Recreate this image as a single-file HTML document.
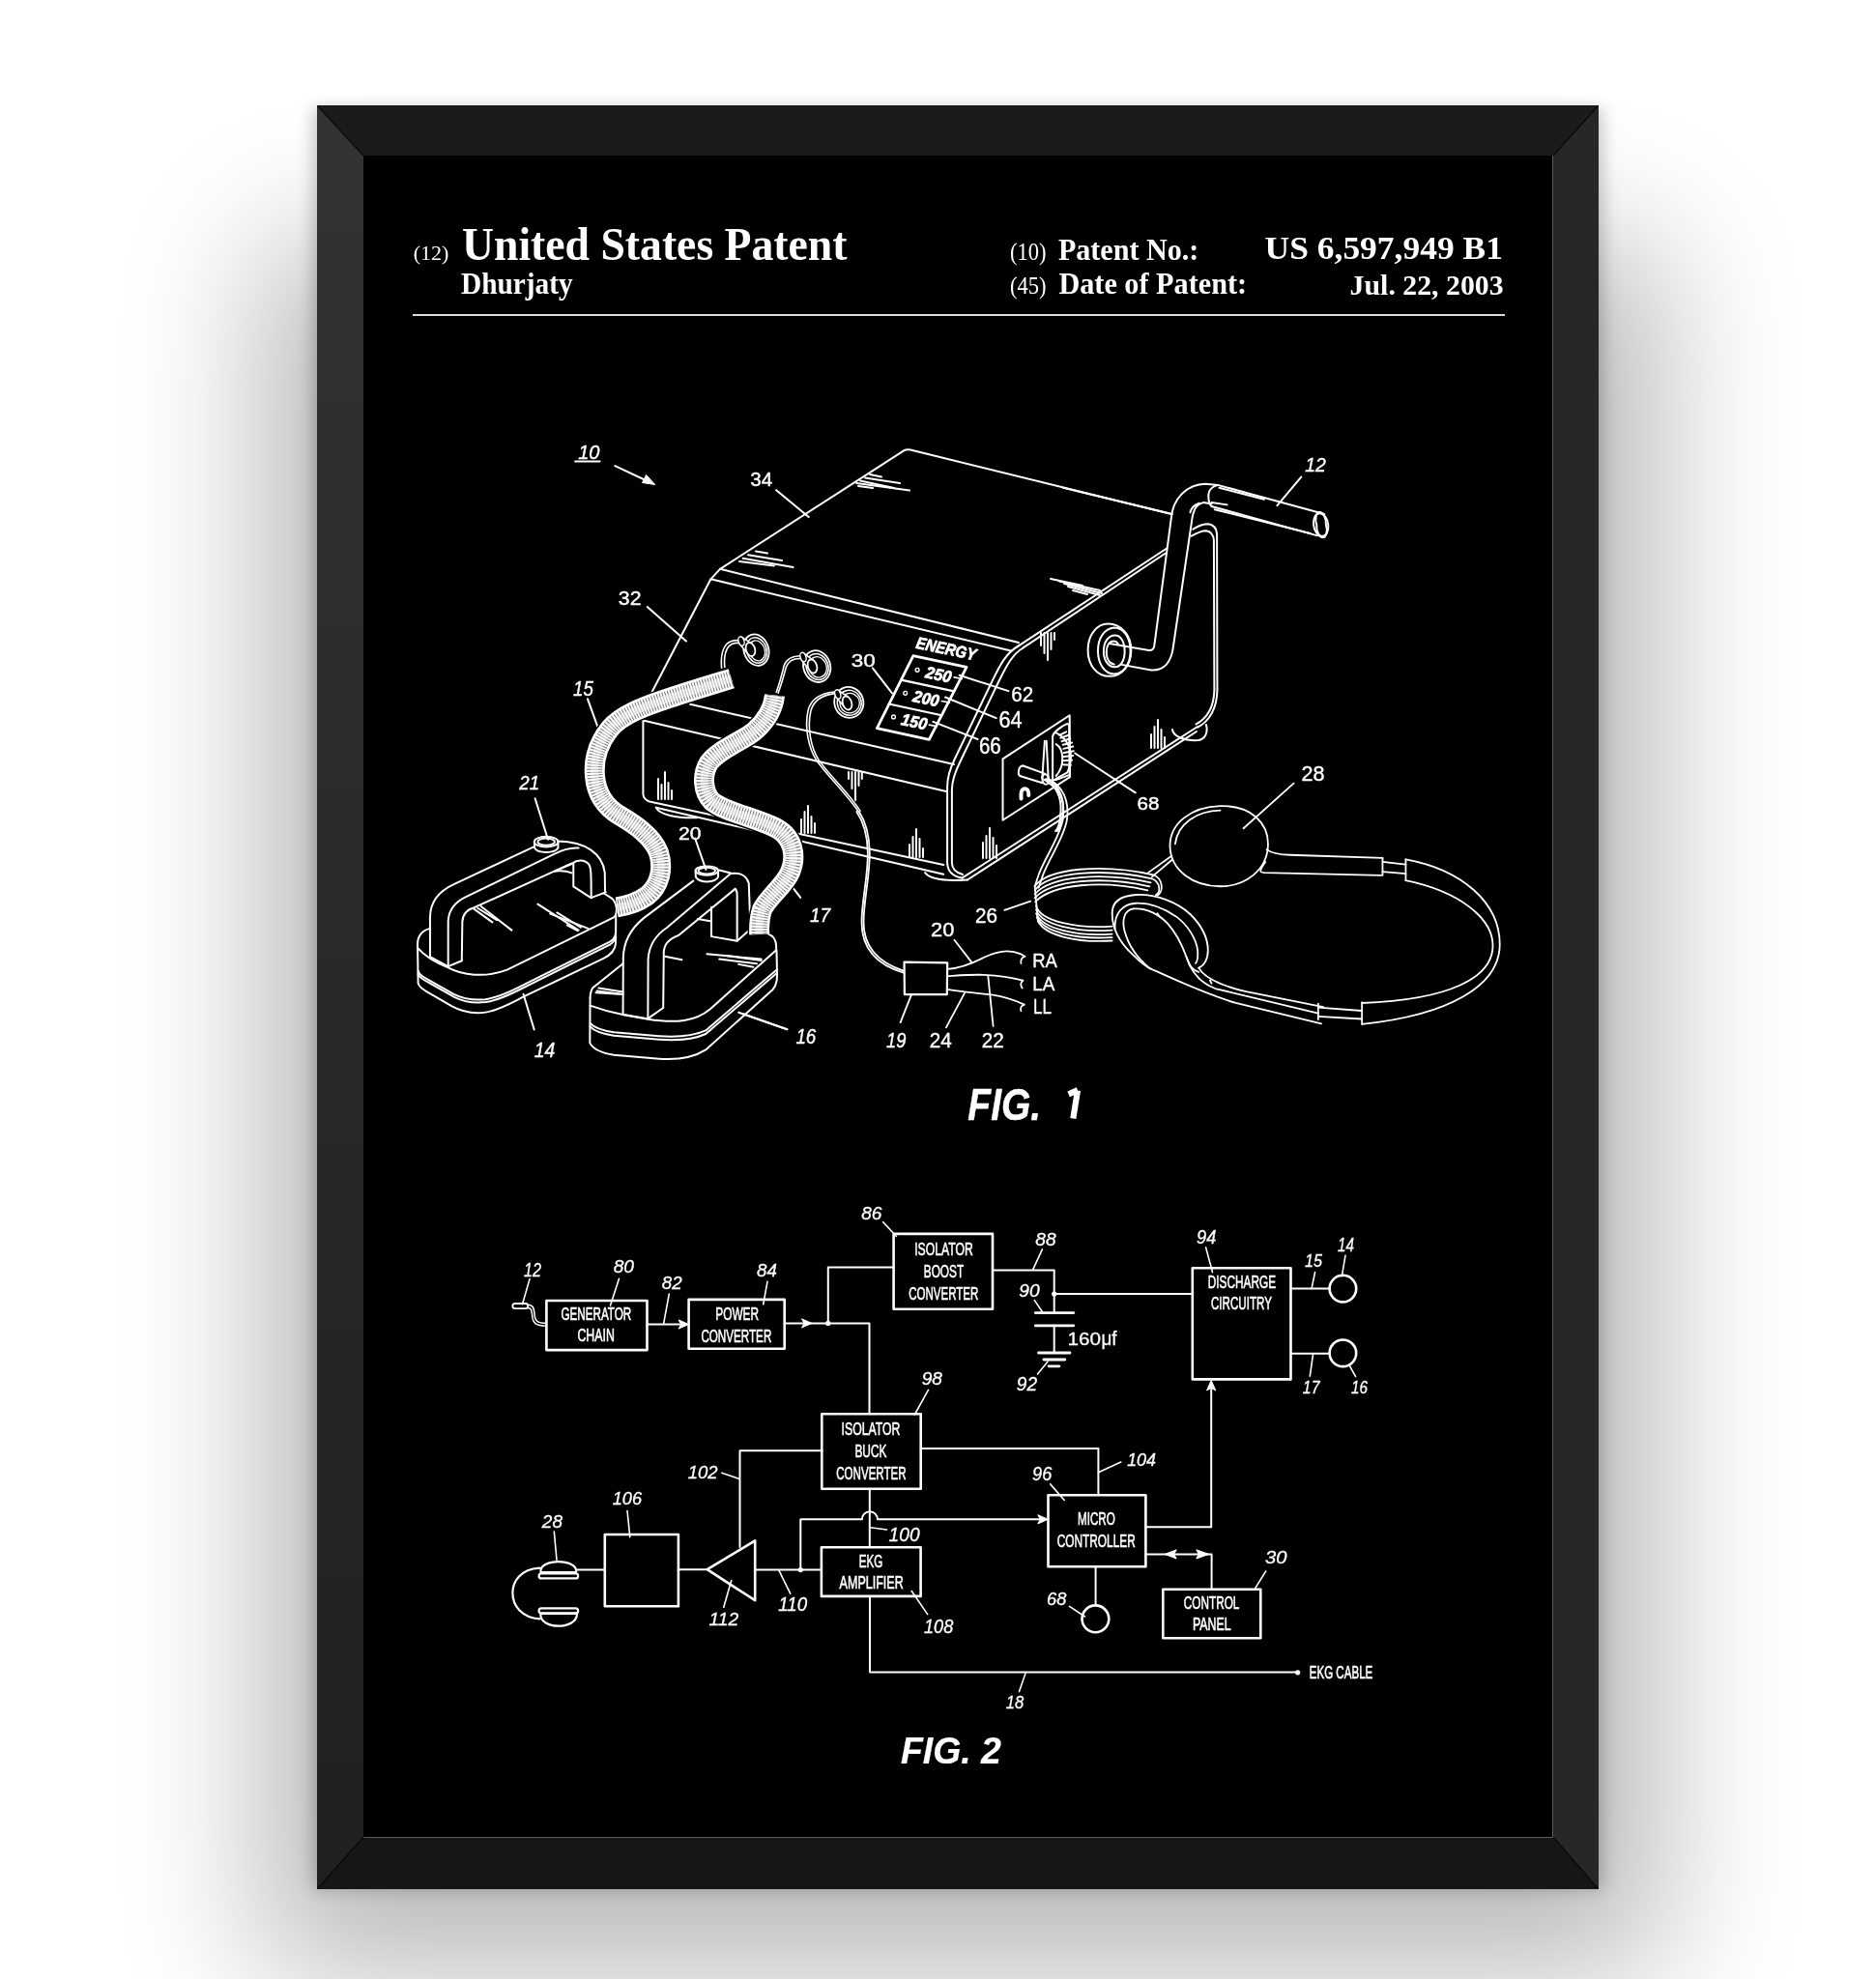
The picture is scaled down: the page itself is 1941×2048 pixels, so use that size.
<!DOCTYPE html>
<html><head><meta charset="utf-8">
<style>
html,body{margin:0;padding:0;background:#fff;}
body{width:1941px;height:2048px;overflow:hidden;position:relative;}
svg{position:absolute;left:0;top:0;will-change:transform;}
</style></head><body>
<svg width="1941" height="2048" viewBox="0 0 1941 2048">
<defs>
<filter id="sh" x="-40%" y="-40%" width="180%" height="180%"><feGaussianBlur stdDeviation="74"/></filter>
<filter id="sh2" x="-20%" y="-20%" width="140%" height="140%"><feGaussianBlur stdDeviation="8.4"/></filter>
</defs>
<rect width="1941" height="2048" fill="#fff"/>
<g id="shadow">
<rect x="271" y="250" width="1446" height="1792" fill="#000" opacity="0.274" filter="url(#sh)"/>
<rect x="324" y="112" width="1334" height="1843" fill="#000" opacity="0.219" filter="url(#sh2)"/>
</g>
<g id="frame">
<defs><linearGradient id="lg" x1="0" y1="0" x2="0" y2="1"><stop offset="0" stop-color="#333"/><stop offset="0.5" stop-color="#292929"/><stop offset="1" stop-color="#202020"/></linearGradient></defs>
<rect x="328" y="109" width="1326" height="1846" fill="#1b1b1b"/>
<polygon points="328,109 1654,109 1607,161 376,161" fill="#1b1b1b"/>
<polygon points="328,109 376,161 376,1901 328,1955" fill="url(#lg)"/>
<polygon points="1654,109 1654,1955 1607,1901 1607,161" fill="#272727"/>
<polygon points="328,1955 376,1901 1607,1901 1654,1955" fill="#161616"/>
<path d="M328.5,109.5 L376,161 M1653.5,109.5 L1607,161 M328.5,1954.5 L376,1901 M1653.5,1954.5 L1607,1901" stroke="#0c0c0c" stroke-width="1.5"/>
<rect x="376" y="161" width="1231" height="1740" fill="#000"/>
<path d="M376.5,1901.5 H1606.5 V161" stroke="#5a5a5a" stroke-width="1" fill="none"/>
</g>
<g id="header">
<text x="427.7" y="268.6" font-size="20.61" style="font-family:'Liberation Serif',serif;" textLength="36.8" lengthAdjust="spacingAndGlyphs" fill="#fff">(12)</text>
<text x="478.0" y="269.2" font-size="47.63" style="font-family:'Liberation Serif',serif;font-weight:bold;" textLength="398.5" lengthAdjust="spacingAndGlyphs" fill="#fff">United States Patent</text>
<text x="477.0" y="304.1" font-size="31.15" style="font-family:'Liberation Serif',serif;font-weight:bold;" textLength="115.7" lengthAdjust="spacingAndGlyphs" fill="#fff">Dhurjaty</text>
<text x="1045.0" y="268.6" font-size="25.45" style="font-family:'Liberation Serif',serif;" textLength="37.5" lengthAdjust="spacingAndGlyphs" fill="#fff">(10)</text>
<text x="1094.9" y="268.6" font-size="30.84" style="font-family:'Liberation Serif',serif;font-weight:bold;" textLength="145.5" lengthAdjust="spacingAndGlyphs" fill="#fff">Patent No.:</text>
<text x="1308.6" y="268.4" font-size="34.35" style="font-family:'Liberation Serif',serif;font-weight:bold;" textLength="246.3" lengthAdjust="spacingAndGlyphs" fill="#fff">US 6,597,949 B1</text>
<text x="1045.0" y="304.4" font-size="25.45" style="font-family:'Liberation Serif',serif;" textLength="37.5" lengthAdjust="spacingAndGlyphs" fill="#fff">(45)</text>
<text x="1095.4" y="304.4" font-size="30.69" style="font-family:'Liberation Serif',serif;font-weight:bold;" textLength="194.7" lengthAdjust="spacingAndGlyphs" fill="#fff">Date of Patent:</text>
<text x="1396.6" y="304.5" font-size="30.38" style="font-family:'Liberation Serif',serif;font-weight:bold;" textLength="159.1" lengthAdjust="spacingAndGlyphs" fill="#fff">Jul. 22, 2003</text>
<rect x="427" y="325" width="1130" height="2" fill="#ddd"/>
</g>
<g id="fig1" stroke="#fff" fill="none" stroke-linecap="round" stroke-linejoin="round">
<g transform="translate(425,860) scale(0.117271)">
<path d="M170,860 C100,875 58,930 60,1000 L60,1030" stroke-width="2.0" vector-effect="non-scaling-stroke"/>
<path d="M60,1030 C120,1100 220,1160 330,1205 C450,1270 650,1300 850,1225 L1795,760 C1830,720 1820,620 1760,585 L1700,548" stroke-width="2.0" vector-effect="non-scaling-stroke"/>
<path d="M60,1000 L65,1345 C80,1390 130,1410 180,1440 L360,1545 C460,1600 560,1615 660,1600 C780,1580 880,1520 1000,1460 L1700,1125 C1770,1090 1805,1050 1808,990 L1810,740" stroke-width="2.0" vector-effect="non-scaling-stroke"/>
<path d="M65,1235 C75,1270 110,1290 150,1310 L380,1440 C470,1485 560,1495 660,1485 C760,1470 850,1430 950,1380 L1760,975 C1790,955 1805,930 1808,900" stroke-width="2.0" vector-effect="non-scaling-stroke"/>
<path d="M65,1265 C80,1295 115,1315 155,1335 L385,1465 C470,1510 560,1520 660,1510 C760,1495 850,1455 950,1405 L1760,1000 C1790,980 1805,955 1808,925" stroke-width="2.0" vector-effect="non-scaling-stroke"/>
<path d="M170,1110 L170,760 C172,620 250,530 380,470 L1085,140" stroke-width="2.0" vector-effect="non-scaling-stroke"/>
<path d="M1300,90 C1545,95 1690,200 1712,367 L1714,534" stroke-width="2.0" vector-effect="non-scaling-stroke"/>
<path d="M330,1195 L330,800 C332,690 400,620 500,575 L1260,205 C1340,165 1420,145 1480,150" stroke-width="2.0" vector-effect="non-scaling-stroke"/>
<path d="M450,1145 L455,800 C460,720 500,690 560,675 L1420,285" stroke-width="2.0" vector-effect="non-scaling-stroke"/>
<path d="M1425,285 C1470,250 1540,250 1575,300 C1590,330 1592,380 1592,590" stroke-width="2.0" vector-effect="non-scaling-stroke"/>
<path d="M1435,285 L1435,490 L1590,590 L1720,540" stroke-width="2.0" vector-effect="non-scaling-stroke"/>
<path d="M170,1110 L330,1195 L450,1145" stroke-width="2.0" vector-effect="non-scaling-stroke"/>
<path d="M1270,355 L1420,290" stroke-width="2.0" vector-effect="non-scaling-stroke"/>
<path d="M1280,355 C1320,350 1380,355 1420,370" stroke-width="2.0" vector-effect="non-scaling-stroke"/>
<path d="M1090,95 A105,45 0 1,1 1300,95 A105,45 0 1,1 1090,95" stroke-width="2.0" vector-effect="non-scaling-stroke"/>
<path d="M1120,95 A75,30 0 1,1 1270,95 A75,30 0 1,1 1120,95" stroke-width="2.0" vector-effect="non-scaling-stroke"/>
<path d="M1090,95 L1092,150 C1120,200 1270,200 1300,150 L1300,95" stroke-width="2.0" vector-effect="non-scaling-stroke"/>
<path d="M560,690 L720,805" stroke-width="2.0" vector-effect="non-scaling-stroke"/>
<path d="M590,680 L760,785" stroke-width="2.0" vector-effect="non-scaling-stroke"/>
<path d="M620,665 L890,875" stroke-width="2.0" vector-effect="non-scaling-stroke"/>
<path d="M1120,645 L1480,875" stroke-width="2.0" vector-effect="non-scaling-stroke"/>
<path d="M1230,730 L1565,860" stroke-width="2.0" vector-effect="non-scaling-stroke"/>
<path d="M1290,720 L1500,850" stroke-width="2.0" vector-effect="non-scaling-stroke"/>
<path d="M1380,830 L1470,880" stroke-width="2.0" vector-effect="non-scaling-stroke"/>
</g>
<g transform="translate(600,880) scale(0.117271)">
<path d="M130,1200 L380,1000" stroke-width="2.0" vector-effect="non-scaling-stroke"/>
<path d="M1500,700 C1580,705 1650,720 1700,760 C1730,790 1735,830 1732,880" stroke-width="2.0" vector-effect="non-scaling-stroke"/>
<path d="M90,1300 C92,1250 105,1215 130,1200" stroke-width="2.0" vector-effect="non-scaling-stroke"/>
<path d="M90,1370 C200,1410 300,1435 380,1450 L600,1490 C700,1505 820,1515 920,1500 C1020,1485 1090,1450 1150,1400 L1732,880" stroke-width="2.0" vector-effect="non-scaling-stroke"/>
<path d="M90,1300 L88,1700 C120,1760 200,1790 300,1805 L700,1840 C850,1850 1000,1830 1110,1760 L1700,1230 C1730,1200 1740,1160 1740,1100 L1735,880" stroke-width="2.0" vector-effect="non-scaling-stroke"/>
<path d="M90,1525 C130,1570 200,1590 300,1605 L700,1640 C850,1650 1000,1640 1110,1590 L1740,1050" stroke-width="2.0" vector-effect="non-scaling-stroke"/>
<path d="M90,1555 C130,1600 200,1620 300,1635 L700,1670 C850,1680 1000,1670 1110,1620 L1740,1080" stroke-width="2.0" vector-effect="non-scaling-stroke"/>
<path d="M380,1450 L382,950 C385,800 450,690 560,600 L1000,270" stroke-width="2.0" vector-effect="non-scaling-stroke"/>
<path d="M600,1485 L602,960 C610,830 680,740 770,680 L1330,205 C1400,195 1470,215 1490,290 L1505,690" stroke-width="2.0" vector-effect="non-scaling-stroke"/>
<path d="M735,1390 L740,890 C750,810 800,780 870,750 L1370,340" stroke-width="2.0" vector-effect="non-scaling-stroke"/>
<path d="M380,1450 L600,1485 L735,1390" stroke-width="2.0" vector-effect="non-scaling-stroke"/>
<path d="M1370,340 C1382,350 1387,370 1387,400 L1387,800" stroke-width="2.0" vector-effect="non-scaling-stroke"/>
<path d="M1160,500 L1160,760 L1387,800 L1505,695" stroke-width="2.0" vector-effect="non-scaling-stroke"/>
<path d="M1040,605 L1150,625" stroke-width="2.0" vector-effect="non-scaling-stroke"/>
<path d="M1230,175 L1330,200" stroke-width="2.0" vector-effect="non-scaling-stroke"/>
<path d="M1020,180 A100,40 0 1,1 1220,180 A100,40 0 1,1 1020,180" stroke-width="2.0" vector-effect="non-scaling-stroke"/>
<path d="M1045,180 A75,28 0 1,1 1195,180 A75,28 0 1,1 1045,180" stroke-width="2.0" vector-effect="non-scaling-stroke"/>
<path d="M1020,180 L1022,235 C1060,290 1190,290 1220,235 L1220,180" stroke-width="2.0" vector-effect="non-scaling-stroke"/>
<path d="M1120,915 L1600,960" stroke-width="2.0" vector-effect="non-scaling-stroke"/>
<path d="M1230,960 L1560,1000" stroke-width="2.0" vector-effect="non-scaling-stroke"/>
<path d="M1290,930 L1600,972" stroke-width="2.0" vector-effect="non-scaling-stroke"/>
<path d="M1400,1005 L1530,1030" stroke-width="2.0" vector-effect="non-scaling-stroke"/>
<path d="M750,935 L900,965" stroke-width="2.0" vector-effect="non-scaling-stroke"/>
<path d="M150,1240 L380,1270" stroke-width="2.0" vector-effect="non-scaling-stroke"/>
<path d="M165,1215 L380,1250" stroke-width="2.0" vector-effect="non-scaling-stroke"/>
<path d="M140,1255 L350,1268" stroke-width="2.0" vector-effect="non-scaling-stroke"/>
<path d="M1400,1430 L1830,1580" stroke-width="2.0" vector-effect="non-scaling-stroke"/>
</g>
<g transform="translate(1100,460) scale(0.159915)">
<path d="M0,280 L705,450" stroke-width="2.0" vector-effect="non-scaling-stroke"/>
<path d="M-284,1300 L670,672" stroke-width="2.0" vector-effect="non-scaling-stroke"/>
<path d="M-259,1316 L660,705" stroke-width="2.0" vector-effect="non-scaling-stroke"/>
<path d="M840,548 C870,530 900,515 940,515 C975,520 992,545 995,580 L997,1590 C995,1700 950,1790 870,1830" stroke-width="2.0" vector-effect="non-scaling-stroke"/>
<path d="M830,592 C860,575 890,558 925,558 C955,562 972,585 975,620 L978,1590 C975,1690 935,1770 860,1810" stroke-width="2.0" vector-effect="non-scaling-stroke"/>
<path d="M300,1288 L555,1332 C575,1334 588,1320 590,1300 L700,470 C710,360 790,260 920,255 L1000,262" stroke-width="2.0" vector-effect="non-scaling-stroke"/>
<path d="M380,1425 L570,1460 C650,1465 700,1410 712,1310 L830,510 C840,420 860,385 910,375 L960,385" stroke-width="2.0" vector-effect="non-scaling-stroke"/>
<path d="M822,440 C830,410 850,390 880,380" stroke-width="2.0" vector-effect="non-scaling-stroke"/>
<path d="M1000,262 L1690,450" stroke-width="2.0" vector-effect="non-scaling-stroke"/>
<path d="M960,400 L1645,590" stroke-width="2.0" vector-effect="non-scaling-stroke"/>
<path d="M1000,262 C960,270 940,300 940,335 C940,370 950,395 965,402" stroke-width="2.0" vector-effect="non-scaling-stroke"/>
<path d="M1620,520 A45,72 -10 1,1 1715,520 A45,72 -10 1,1 1620,520" stroke-width="2.0" vector-effect="non-scaling-stroke"/>
<path d="M1640,520 A32,60 -10 1,1 1700,520 A32,60 -10 1,1 1640,520" stroke-width="2.0" vector-effect="non-scaling-stroke"/>
<path d="M1010,280 L1300,355" stroke-width="2.0" vector-effect="non-scaling-stroke"/>
<path d="M960,375 L1060,390" stroke-width="2.0" vector-effect="non-scaling-stroke"/>
<path d="M980,420 L1600,575" stroke-width="2.0" vector-effect="non-scaling-stroke"/>
<path d="M160,1330 C160,1230 220,1160 290,1160 C380,1160 440,1240 440,1330 C440,1430 380,1500 300,1500 C220,1500 160,1430 160,1330" stroke-width="2.0" vector-effect="non-scaling-stroke"/>
<path d="M225,1335 C225,1250 270,1190 330,1185 C395,1185 435,1255 435,1335 C435,1420 395,1480 330,1485 C270,1485 225,1420 225,1335" stroke-width="2.0" vector-effect="non-scaling-stroke"/>
<path d="M262,1338 C262,1275 295,1235 335,1235 C375,1235 398,1280 398,1340 C398,1400 370,1440 335,1440 C295,1440 262,1400 262,1338" stroke-width="2.0" vector-effect="non-scaling-stroke"/>
<path d="M280,1345 C280,1300 300,1272 325,1272 C340,1272 350,1280 355,1290" stroke-width="2.0" vector-effect="non-scaling-stroke"/>
<path d="M280,1345 C280,1390 300,1420 330,1422" stroke-width="2.0" vector-effect="non-scaling-stroke"/>
<path d="M1540,210 L1385,395" stroke-width="2.0" vector-effect="non-scaling-stroke"/>
</g>
<g transform="translate(0,0) scale(1.000000)">
<path d="M1212,532 L942,465.5 C939,465 937,465.3 935.5,466.2 L745,588.8 L1054,665" stroke-width="2.0" vector-effect="non-scaling-stroke"/>
<path d="M745,588.8 L735.4,599.3 L1046,673.5" stroke-width="2.0" vector-effect="non-scaling-stroke"/>
<path d="M735.4,599.3 L674.5,716.3" stroke-width="2.0" vector-effect="non-scaling-stroke"/>
<path d="M714,728.8 L987,791" stroke-width="2.0" vector-effect="non-scaling-stroke"/>
<path d="M665.4,745.5 L979,819" stroke-width="2.0" vector-effect="non-scaling-stroke"/>
<path d="M665.4,745.5 L665.4,822 C665.8,826 668,828 672,829.5 L976.2,895.1" stroke-width="2.0" vector-effect="non-scaling-stroke"/>
<path d="M678.8,835.7 L976.2,904.7" stroke-width="2.0" vector-effect="non-scaling-stroke"/>
<path d="M678.8,835.7 C682,843 700,847 721,846.2" stroke-width="2.0" vector-effect="non-scaling-stroke"/>
<path d="M957,903 C962,910 980,912 1001,910.5" stroke-width="2.0" vector-effect="non-scaling-stroke"/>
<path d="M1054.5,668 C1040,676 1034,690 1026,706 L988,785 C982,797 980,806 980.1,815 L980.1,893 C980.5,902 986,907 995.4,908.6" stroke-width="2.0" vector-effect="non-scaling-stroke"/>
<path d="M1058.5,670.5 C1046,678 1040,692 1032,708 L994,787 C988,799 985,808 984.9,817 L984.9,893 C985,899 989,903 996,905" stroke-width="2.0" vector-effect="non-scaling-stroke"/>
<path d="M995.4,908.6 L1239,752" stroke-width="2.0" vector-effect="non-scaling-stroke"/>
<path d="M1001,910.5 L1238,757" stroke-width="2.0" vector-effect="non-scaling-stroke"/>
<path d="M1213,755 C1214,762 1225,767 1240,766 C1247,765 1250,758 1248,750" stroke-width="2.0" vector-effect="non-scaling-stroke"/>
<path d="M900,491 L912,493.5" stroke-width="2.0" vector-effect="non-scaling-stroke"/>
<path d="M895,494.5 L931,500" stroke-width="2.0" vector-effect="non-scaling-stroke"/>
<path d="M890,497.5 L925,505" stroke-width="2.0" vector-effect="non-scaling-stroke"/>
<path d="M886,500 L941,507.5" stroke-width="2.0" vector-effect="non-scaling-stroke"/>
<path d="M888,503 L903,505" stroke-width="2.0" vector-effect="non-scaling-stroke"/>
<path d="M782,570.5 L794,572.5" stroke-width="2.0" vector-effect="non-scaling-stroke"/>
<path d="M774,574.3 L809,580" stroke-width="2.0" vector-effect="non-scaling-stroke"/>
<path d="M768.6,577.8 L820.5,587" stroke-width="2.0" vector-effect="non-scaling-stroke"/>
<path d="M765,581 L801,585.5" stroke-width="2.0" vector-effect="non-scaling-stroke"/>
<path d="M1087,599 L1120,606" stroke-width="2.0" vector-effect="non-scaling-stroke"/>
<path d="M1096,601.5 L1138,611" stroke-width="2.0" vector-effect="non-scaling-stroke"/>
<path d="M1101,604 L1140,614" stroke-width="2.0" vector-effect="non-scaling-stroke"/>
<path d="M1105,607 L1138,616" stroke-width="2.0" vector-effect="non-scaling-stroke"/>
<path d="M1110,611 L1125,615" stroke-width="2.0" vector-effect="non-scaling-stroke"/>
<path d="M681,806 L681,827" stroke-width="2.0" vector-effect="non-scaling-stroke"/>
<path d="M684.5,812 L684.5,827" stroke-width="2.0" vector-effect="non-scaling-stroke"/>
<path d="M688,799 L688,827" stroke-width="2.0" vector-effect="non-scaling-stroke"/>
<path d="M691.5,810 L691.5,827" stroke-width="2.0" vector-effect="non-scaling-stroke"/>
<path d="M695,818 L695,827" stroke-width="2.0" vector-effect="non-scaling-stroke"/>
<path d="M878,799 L878,806" stroke-width="2.0" vector-effect="non-scaling-stroke"/>
<path d="M881.5,799 L881.5,816" stroke-width="2.0" vector-effect="non-scaling-stroke"/>
<path d="M885,799 L885,828" stroke-width="2.0" vector-effect="non-scaling-stroke"/>
<path d="M888.5,799 L888.5,813" stroke-width="2.0" vector-effect="non-scaling-stroke"/>
<path d="M891.8,799 L891.8,806" stroke-width="2.0" vector-effect="non-scaling-stroke"/>
<path d="M829,848 L829,862" stroke-width="2.0" vector-effect="non-scaling-stroke"/>
<path d="M832.5,840 L832.5,862" stroke-width="2.0" vector-effect="non-scaling-stroke"/>
<path d="M836,834 L836,862" stroke-width="2.0" vector-effect="non-scaling-stroke"/>
<path d="M839.5,845 L839.5,862" stroke-width="2.0" vector-effect="non-scaling-stroke"/>
<path d="M843,852 L843,862" stroke-width="2.0" vector-effect="non-scaling-stroke"/>
<path d="M941,874 L941,887" stroke-width="2.0" vector-effect="non-scaling-stroke"/>
<path d="M944.5,866 L944.5,887" stroke-width="2.0" vector-effect="non-scaling-stroke"/>
<path d="M948,858 L948,887" stroke-width="2.0" vector-effect="non-scaling-stroke"/>
<path d="M951.5,868 L951.5,887" stroke-width="2.0" vector-effect="non-scaling-stroke"/>
<path d="M955,878 L955,887" stroke-width="2.0" vector-effect="non-scaling-stroke"/>
<path d="M1077,655 L1077,668" stroke-width="2.0" vector-effect="non-scaling-stroke"/>
<path d="M1080.5,655 L1080.5,676" stroke-width="2.0" vector-effect="non-scaling-stroke"/>
<path d="M1084,655 L1084,683" stroke-width="2.0" vector-effect="non-scaling-stroke"/>
<path d="M1087.5,655 L1087.5,672" stroke-width="2.0" vector-effect="non-scaling-stroke"/>
<path d="M1091,655 L1091,662" stroke-width="2.0" vector-effect="non-scaling-stroke"/>
<path d="M1191,760 L1191,774" stroke-width="2.0" vector-effect="non-scaling-stroke"/>
<path d="M1194.5,752 L1194.5,774" stroke-width="2.0" vector-effect="non-scaling-stroke"/>
<path d="M1198,745 L1198,774" stroke-width="2.0" vector-effect="non-scaling-stroke"/>
<path d="M1201.5,755 L1201.5,774" stroke-width="2.0" vector-effect="non-scaling-stroke"/>
<path d="M1205,763 L1205,774" stroke-width="2.0" vector-effect="non-scaling-stroke"/>
<path d="M1017,872 L1017,888" stroke-width="2.0" vector-effect="non-scaling-stroke"/>
<path d="M1020.5,865 L1020.5,888" stroke-width="2.0" vector-effect="non-scaling-stroke"/>
<path d="M1024,857 L1024,888" stroke-width="2.0" vector-effect="non-scaling-stroke"/>
<path d="M1027.5,867 L1027.5,888" stroke-width="2.0" vector-effect="non-scaling-stroke"/>
<path d="M1031,875 L1031,888" stroke-width="2.0" vector-effect="non-scaling-stroke"/>
<path d="M803.1,507.2 L836.7,535" stroke-width="2.0" vector-effect="non-scaling-stroke"/>
<path d="M669.7,628.1 L710,663.6" stroke-width="2.0" vector-effect="non-scaling-stroke"/>
<path d="M902.9,691.4 L923,717.3" stroke-width="2.0" vector-effect="non-scaling-stroke"/>
<path d="M636.3,482.1 L668,497" stroke-width="2.0" vector-effect="non-scaling-stroke"/>
<path d="M992.6,698.8 L1043.4,715.1" stroke-width="2.0" vector-effect="non-scaling-stroke"/>
<path d="M978.1,721.5 L1030.7,743.2" stroke-width="2.0" vector-effect="non-scaling-stroke"/>
<path d="M965.4,746.9 L1011.6,765" stroke-width="2.0" vector-effect="non-scaling-stroke"/>
<path d="M1112.2,779.5 L1174.8,820.3" stroke-width="2.0" vector-effect="non-scaling-stroke"/>
<path d="M595.2,477.5 L620.5,477.5" stroke-width="2.2" vector-effect="non-scaling-stroke"/>
</g>
<g transform="translate(690,650) scale(0.161681)">
<path d="M350,255 C345,200 350,140 380,105 C405,80 440,75 470,80" stroke-width="1.6" vector-effect="non-scaling-stroke"/>
<path d="M370,250 C365,200 370,150 395,118 C418,95 445,92 470,98" stroke-width="1.6" vector-effect="non-scaling-stroke"/>
<path d="M700,410 C720,360 735,300 750,240 C765,195 800,178 860,178" stroke-width="1.6" vector-effect="non-scaling-stroke"/>
<path d="M712,415 C732,365 748,305 763,250 C778,208 808,192 862,195" stroke-width="1.6" vector-effect="non-scaling-stroke"/>
<path d="M1070,408 C1000,415 930,440 905,520 C880,620 900,760 960,850 C1040,960 1150,1060 1237,1190" stroke-width="1.6" vector-effect="non-scaling-stroke"/>
<path d="M1068,420 C1005,428 945,455 922,525 C898,620 915,755 972,845 C1050,955 1160,1050 1237,1170" stroke-width="1.6" vector-effect="non-scaling-stroke"/>
</g>
<g transform="translate(1000,640) scale(0.117271)">
<path d="M320,1240 L910,855 L912,1400 L320,1780 Z" stroke-width="2.0" vector-effect="non-scaling-stroke"/>
<path d="M760,1425 L760,1040 C770,1000 840,950 885,930 L905,935 L910,1380 L790,1425 Z" stroke-width="2.0" vector-effect="non-scaling-stroke"/>
<path d="M790,1010 C900,1060 960,1200 890,1360 L790,1415" stroke-width="2.0" vector-effect="non-scaling-stroke"/>
<path d="M790,1110 C860,1150 870,1300 790,1390" stroke-width="2.0" vector-effect="non-scaling-stroke"/>
<path d="M820,1030 L880,1000" stroke-width="2.0" vector-effect="non-scaling-stroke"/>
<path d="M830,1055 L900,1030" stroke-width="2.0" vector-effect="non-scaling-stroke"/>
<path d="M840,1085 L915,1060" stroke-width="2.0" vector-effect="non-scaling-stroke"/>
<path d="M850,1115 L930,1095" stroke-width="2.0" vector-effect="non-scaling-stroke"/>
<path d="M855,1150 L940,1130" stroke-width="2.0" vector-effect="non-scaling-stroke"/>
<path d="M860,1185 L945,1170" stroke-width="2.0" vector-effect="non-scaling-stroke"/>
<path d="M860,1220 L940,1210" stroke-width="2.0" vector-effect="non-scaling-stroke"/>
<path d="M855,1255 L930,1250" stroke-width="2.0" vector-effect="non-scaling-stroke"/>
<path d="M845,1290 L920,1295" stroke-width="2.0" vector-effect="non-scaling-stroke"/>
<path d="M690,1080 L668,1410" stroke-width="2.0" vector-effect="non-scaling-stroke"/>
<path d="M705,1080 L722,1410" stroke-width="2.0" vector-effect="non-scaling-stroke"/>
<path d="M500,1300 L690,1370" stroke-width="2.0" vector-effect="non-scaling-stroke"/>
<path d="M478,1392 L670,1452" stroke-width="2.0" vector-effect="non-scaling-stroke"/>
<path d="M500,1300 C455,1300 445,1385 480,1393" stroke-width="2.0" vector-effect="non-scaling-stroke"/>
<path d="M670,1420 A28,36 -15 1,1 725,1420 A28,36 -15 1,1 670,1420" stroke-width="2.0" vector-effect="non-scaling-stroke"/>
<path d="M482,1590 L482,1545 C482,1490 548,1490 548,1545 L548,1560" stroke-width="4" vector-effect="non-scaling-stroke"/>
<path d="M700,1418 C800,1455 860,1560 852,1700 C845,1790 820,1860 800,1876" stroke-width="2.0" vector-effect="non-scaling-stroke"/>
<path d="M715,1445 C790,1485 838,1575 832,1700 C826,1790 805,1860 785,1876" stroke-width="2.0" vector-effect="non-scaling-stroke"/>
</g>
<g transform="translate(1060,780) scale(0.266525)">
<path d="M565,365 C560,270 650,205 760,203 C880,200 950,270 945,360 C940,450 860,515 760,515 C650,515 570,450 565,365 Z" stroke-width="1.8" vector-effect="non-scaling-stroke"/>
<path d="M585,350 C595,270 670,222 760,220" stroke-width="1.8" vector-effect="non-scaling-stroke"/>
<path d="M940,372 C960,388 990,392 1030,393 L1390,405" stroke-width="1.8" vector-effect="non-scaling-stroke"/>
<path d="M935,420 C920,445 905,460 930,462 L1385,472" stroke-width="1.8" vector-effect="non-scaling-stroke"/>
<path d="M1390,405 L1390,472" stroke-width="1.8" vector-effect="non-scaling-stroke"/>
<path d="M1390,420 L1480,430" stroke-width="1.8" vector-effect="non-scaling-stroke"/>
<path d="M1390,458 L1480,466" stroke-width="1.8" vector-effect="non-scaling-stroke"/>
<path d="M1480,410 C1700,450 1845,580 1845,740 C1845,900 1650,1015 1310,1050" stroke-width="1.8" vector-effect="non-scaling-stroke"/>
<path d="M1480,492 C1690,535 1818,640 1818,745 C1818,870 1650,955 1310,968" stroke-width="1.8" vector-effect="non-scaling-stroke"/>
<path d="M1480,410 L1480,492" stroke-width="1.8" vector-effect="non-scaling-stroke"/>
<path d="M1310,965 L1310,1050" stroke-width="1.8" vector-effect="non-scaling-stroke"/>
<path d="M1140,985 L1310,998" stroke-width="1.8" vector-effect="non-scaling-stroke"/>
<path d="M1140,1020 L1310,1030" stroke-width="1.8" vector-effect="non-scaling-stroke"/>
<path d="M1140,970 L1140,1032" stroke-width="1.8" vector-effect="non-scaling-stroke"/>
<path d="M40,515 C90,445 300,425 500,470 C540,485 540,540 515,550" stroke-width="1.8" vector-effect="non-scaling-stroke"/>
<path d="M40,530 C95,460 300,442 495,485 C530,500 528,540 510,548" stroke-width="1.8" vector-effect="non-scaling-stroke"/>
<path d="M40,545 C100,475 300,458 490,500" stroke-width="1.8" vector-effect="non-scaling-stroke"/>
<path d="M40,560 C105,490 300,474 485,515" stroke-width="1.8" vector-effect="non-scaling-stroke"/>
<path d="M42,575 C110,505 300,490 478,530" stroke-width="1.8" vector-effect="non-scaling-stroke"/>
<path d="M45,590 C60,650 200,680 340,670" stroke-width="1.8" vector-effect="non-scaling-stroke"/>
<path d="M45,605 C65,665 200,695 340,685" stroke-width="1.8" vector-effect="non-scaling-stroke"/>
<path d="M45,620 C70,680 200,710 340,700" stroke-width="1.8" vector-effect="non-scaling-stroke"/>
<path d="M48,635 C75,693 200,722 340,713" stroke-width="1.8" vector-effect="non-scaling-stroke"/>
<path d="M52,650 C80,705 200,735 340,726" stroke-width="1.8" vector-effect="non-scaling-stroke"/>
<path d="M40,515 L52,650" stroke-width="1.8" vector-effect="non-scaling-stroke"/>
<path d="M480,462 L570,398" stroke-width="1.8" vector-effect="non-scaling-stroke"/>
<path d="M495,478 L575,410" stroke-width="1.8" vector-effect="non-scaling-stroke"/>
<path d="M75,100 C130,130 160,170 150,250 C140,320 80,400 55,470 L40,515" stroke-width="1.8" vector-effect="non-scaling-stroke"/>
<path d="M90,95 C145,125 175,175 165,255 C155,325 95,405 70,475 L55,520" stroke-width="1.8" vector-effect="non-scaling-stroke"/>
<path d="M1045,115 L850,290" stroke-width="1.8" vector-effect="non-scaling-stroke"/>
</g>
<g transform="translate(860,840) scale(0.131363)">
<path d="M200,0 C255,80 285,180 288,320 C292,500 240,700 240,870 C240,1050 330,1200 575,1270" stroke-width="1.8" vector-effect="non-scaling-stroke"/>
<path d="M220,0 C272,80 300,180 303,320 C306,500 255,700 255,870 C255,1040 340,1180 575,1255" stroke-width="1.8" vector-effect="non-scaling-stroke"/>
<path d="M575,1185 L915,1190 L912,1440 L578,1440 Z" stroke-width="2.2" vector-effect="non-scaling-stroke"/>
<path d="M915,1240 C1000,1235 1100,1200 1200,1150 C1300,1100 1400,1080 1490,1120 L1525,1140" stroke-width="1.8" vector-effect="non-scaling-stroke"/>
<path d="M1525,1140 C1500,1150 1490,1170 1495,1195" stroke-width="1.8" vector-effect="non-scaling-stroke"/>
<path d="M915,1295 C1000,1290 1100,1282 1200,1285 C1300,1290 1420,1305 1510,1330" stroke-width="1.8" vector-effect="non-scaling-stroke"/>
<path d="M1510,1330 C1490,1345 1490,1370 1505,1390" stroke-width="1.8" vector-effect="non-scaling-stroke"/>
<path d="M915,1400 C1000,1415 1100,1425 1250,1440 C1350,1455 1440,1480 1520,1520" stroke-width="1.8" vector-effect="non-scaling-stroke"/>
<path d="M1520,1520 C1495,1530 1487,1550 1495,1570" stroke-width="1.8" vector-effect="non-scaling-stroke"/>
<path d="M1235,1290 L1276,1690" stroke-width="1.8" vector-effect="non-scaling-stroke"/>
<path d="M970,1010 L1105,1185" stroke-width="1.8" vector-effect="non-scaling-stroke"/>
<path d="M630,1445 L545,1660" stroke-width="1.8" vector-effect="non-scaling-stroke"/>
<path d="M1050,1430 L905,1700" stroke-width="1.8" vector-effect="non-scaling-stroke"/>
<path d="M1365,775 L1570,705" stroke-width="1.8" vector-effect="non-scaling-stroke"/>
</g>
<g transform="translate(640,600) scale(0.234542)">
<path d="M1300,335 L1535,385 L1370,705 L1140,655 Z" stroke-width="2.8" vector-effect="non-scaling-stroke"/>
<path d="M1247,442 L1480,492" stroke-width="2.2" vector-effect="non-scaling-stroke"/>
<path d="M1193,548 L1425,598" stroke-width="2.2" vector-effect="non-scaling-stroke"/>
<path d="M1480,430 L1515,437" stroke-width="1.6" vector-effect="non-scaling-stroke"/>
<path d="M1425,535 L1460,542" stroke-width="1.6" vector-effect="non-scaling-stroke"/>
<path d="M1370,640 L1405,647" stroke-width="1.6" vector-effect="non-scaling-stroke"/>
</g>
<g transform="translate(0,0) scale(1.000000)">
<path d="M553.6,826.3 L567,868.8" stroke-width="2.0" vector-effect="non-scaling-stroke"/>
<path d="M719.1,867.5 L730.4,899.8" stroke-width="2.0" vector-effect="non-scaling-stroke"/>
<path d="M828.2,928.9 L817.7,915.2" stroke-width="2.0" vector-effect="non-scaling-stroke"/>
<path d="M541.5,1028.7 L552.7,1065.5" stroke-width="2.0" vector-effect="non-scaling-stroke"/>
<path d="M768.2,1049 L813.7,1065.1" stroke-width="2.0" vector-effect="non-scaling-stroke"/>
<path d="M608,723.3 L619.3,754.6" stroke-width="2.0" vector-effect="non-scaling-stroke"/>
</g>
<g transform="translate(1140,910) scale(0.106610)">
<path d="M100,330 C100,220 180,160 330,150 C520,140 730,220 860,340 C960,440 1030,560 1030,690 C1030,780 990,840 940,860" stroke-width="1.8" vector-effect="non-scaling-stroke"/>
<path d="M100,330 C100,480 180,620 300,730 C370,800 430,850 480,870" stroke-width="1.8" vector-effect="non-scaling-stroke"/>
<path d="M128,480 C120,330 200,240 330,232 C470,225 600,280 720,360 C830,440 915,570 930,690 C935,760 925,800 910,815" stroke-width="1.8" vector-effect="non-scaling-stroke"/>
<path d="M310,285 C215,295 195,400 220,500 C260,650 360,780 470,868" stroke-width="1.8" vector-effect="non-scaling-stroke"/>
<path d="M310,285 C440,275 560,345 640,430 C720,520 780,640 820,750 C850,840 880,880 940,900" stroke-width="1.8" vector-effect="non-scaling-stroke"/>
<path d="M940,860 C990,950 1150,1030 1400,1090 L2150,1240" stroke-width="1.8" vector-effect="non-scaling-stroke"/>
<path d="M820,750 C860,880 940,1000 1100,1060 L2100,1300" stroke-width="1.8" vector-effect="non-scaling-stroke"/>
<path d="M480,870 C700,970 1000,1110 1300,1200 L2130,1400" stroke-width="1.8" vector-effect="non-scaling-stroke"/>
<path d="M540,330 L560,360" stroke-width="1.8" vector-effect="non-scaling-stroke"/>
<path d="M1050,980 L1065,1010" stroke-width="1.8" vector-effect="non-scaling-stroke"/>
</g>
<path d="M 756.8,702.3 C 736.8,708.4 714.0,715.2 691.3,722.8 C 668.5,730.4 642.8,739.4 630.6,754.6 C 618.5,769.8 614.0,786.4 615.5,803.1 C 617.0,821.3 626.1,835.0 641.3,844.1 C 657.9,853.9 674.6,865.3 681.4,882.0 C 686.7,898.6 682.9,916.8 669.3,927.1 C 660.2,933.5 648.8,937.3 638.2,938.8" stroke="#000" stroke-width="24" stroke-linecap="butt"/>
<path d="M 756.8,702.3 C 736.8,708.4 714.0,715.2 691.3,722.8 C 668.5,730.4 642.8,739.4 630.6,754.6 C 618.5,769.8 614.0,786.4 615.5,803.1 C 617.0,821.3 626.1,835.0 641.3,844.1 C 657.9,853.9 674.6,865.3 681.4,882.0 C 686.7,898.6 682.9,916.8 669.3,927.1 C 660.2,933.5 648.8,937.3 638.2,938.8" stroke="#fff" stroke-width="21" stroke-linecap="butt"/>
<path d="M 756.8,702.3 C 736.8,708.4 714.0,715.2 691.3,722.8 C 668.5,730.4 642.8,739.4 630.6,754.6 C 618.5,769.8 614.0,786.4 615.5,803.1 C 617.0,821.3 626.1,835.0 641.3,844.1 C 657.9,853.9 674.6,865.3 681.4,882.0 C 686.7,898.6 682.9,916.8 669.3,927.1 C 660.2,933.5 648.8,937.3 638.2,938.8" stroke="#000" stroke-width="16" stroke-dasharray="1 1.9" stroke-linecap="butt" opacity="0.55"/>
<path d="M 756.8,702.3 C 736.8,708.4 714.0,715.2 691.3,722.8 C 668.5,730.4 642.8,739.4 630.6,754.6 C 618.5,769.8 614.0,786.4 615.5,803.1 C 617.0,821.3 626.1,835.0 641.3,844.1 C 657.9,853.9 674.6,865.3 681.4,882.0 C 686.7,898.6 682.9,916.8 669.3,927.1 C 660.2,933.5 648.8,937.3 638.2,938.8" stroke="#fff" stroke-width="8" stroke-dasharray="1.6 1.3" stroke-dashoffset="0.5" stroke-linecap="butt" opacity="0.55"/>
<path d="M 801.6,719.5 C 799.9,734.1 793.5,745.4 780.5,756.7 C 766.0,768.0 743.4,776.1 733.7,789.0 C 725.6,802.0 727.2,819.8 736.9,829.5 C 751.4,840.8 780.5,845.6 803.2,857.0 C 821.0,866.7 824.2,886.1 817.7,902.2 C 811.3,916.8 795.1,928.1 788.6,941.0 C 785.4,950.7 785.4,960.4 785.7,966.9" stroke="#000" stroke-width="24" stroke-linecap="butt"/>
<path d="M 801.6,719.5 C 799.9,734.1 793.5,745.4 780.5,756.7 C 766.0,768.0 743.4,776.1 733.7,789.0 C 725.6,802.0 727.2,819.8 736.9,829.5 C 751.4,840.8 780.5,845.6 803.2,857.0 C 821.0,866.7 824.2,886.1 817.7,902.2 C 811.3,916.8 795.1,928.1 788.6,941.0 C 785.4,950.7 785.4,960.4 785.7,966.9" stroke="#fff" stroke-width="21" stroke-linecap="butt"/>
<path d="M 801.6,719.5 C 799.9,734.1 793.5,745.4 780.5,756.7 C 766.0,768.0 743.4,776.1 733.7,789.0 C 725.6,802.0 727.2,819.8 736.9,829.5 C 751.4,840.8 780.5,845.6 803.2,857.0 C 821.0,866.7 824.2,886.1 817.7,902.2 C 811.3,916.8 795.1,928.1 788.6,941.0 C 785.4,950.7 785.4,960.4 785.7,966.9" stroke="#000" stroke-width="16" stroke-dasharray="1 1.9" stroke-linecap="butt" opacity="0.55"/>
<path d="M 801.6,719.5 C 799.9,734.1 793.5,745.4 780.5,756.7 C 766.0,768.0 743.4,776.1 733.7,789.0 C 725.6,802.0 727.2,819.8 736.9,829.5 C 751.4,840.8 780.5,845.6 803.2,857.0 C 821.0,866.7 824.2,886.1 817.7,902.2 C 811.3,916.8 795.1,928.1 788.6,941.0 C 785.4,950.7 785.4,960.4 785.7,966.9" stroke="#fff" stroke-width="8" stroke-dasharray="1.6 1.3" stroke-dashoffset="0.5" stroke-linecap="butt" opacity="0.55"/>
<circle cx="949.1" cy="693.3" r="1.9" stroke-width="1.4"/>
<circle cx="936.7" cy="717.3" r="1.9" stroke-width="1.4"/>
<circle cx="924.5" cy="741.9" r="1.9" stroke-width="1.4"/>
<text x="971" y="698.5" transform="rotate(12,971,698.5)" font-size="17" style="font-family:'Liberation Sans',sans-serif;font-weight:bold;font-style:italic;" text-anchor="middle" dominant-baseline="central" textLength="27" lengthAdjust="spacingAndGlyphs" fill="#fff" stroke="#fff" stroke-width="0.7">250</text>
<text x="958.2" y="723.2" transform="rotate(12,958.2,723.2)" font-size="17" style="font-family:'Liberation Sans',sans-serif;font-weight:bold;font-style:italic;" text-anchor="middle" dominant-baseline="central" textLength="27" lengthAdjust="spacingAndGlyphs" fill="#fff" stroke="#fff" stroke-width="0.7">200</text>
<text x="945.9" y="747.2" transform="rotate(12,945.9,747.2)" font-size="17" style="font-family:'Liberation Sans',sans-serif;font-weight:bold;font-style:italic;" text-anchor="middle" dominant-baseline="central" textLength="27" lengthAdjust="spacingAndGlyphs" fill="#fff" stroke="#fff" stroke-width="0.7">150</text>
<text x="979" y="671.6" transform="rotate(12,979,671.6)" font-size="17" style="font-family:'Liberation Sans',sans-serif;font-weight:bold;font-style:italic;" text-anchor="middle" dominant-baseline="central" textLength="63" lengthAdjust="spacingAndGlyphs" fill="#fff" stroke="#fff" stroke-width="0.7">ENERGY</text>
<path d="M1115,1128.6 L1110.3,1157.6 M1105.6,1132.3 L1115,1128.2" stroke-width="6.2" stroke-linecap="butt" stroke-linejoin="bevel"/>
<path d="M677.4,501.4 L664.5,499.5 L668.5,491.8 Z" fill="#fff" stroke="#fff" stroke-width="1"/>
<ellipse cx="782.4" cy="672.6" rx="12.8" ry="16.5" transform="rotate(-18,782.4,672.6)" stroke-width="1.8"/>
<ellipse cx="782.6999999999999" cy="673.1" rx="10.200000000000001" ry="13.5" transform="rotate(-18,782.4,672.6)" stroke-width="1.5"/>
<ellipse cx="783.0" cy="673.6" rx="8.0" ry="10.7" transform="rotate(-18,782.4,672.6)" stroke-width="1.3"/>
<path d="M767.9,659.6 L778.2,666.3 L774.8,677.7 L766.1,667.4 Z" fill="#000" stroke-width="1.6"/>
<ellipse cx="767" cy="663.5" rx="2.9" ry="4.9" transform="rotate(-18,767,663.5)" fill="#000" stroke-width="1.5"/>
<ellipse cx="776.5" cy="672" rx="4.6" ry="7.2" transform="rotate(-18,776.5,672)" fill="#000" stroke-width="1.8"/>
<ellipse cx="845.2" cy="689.6" rx="13.9" ry="16.6" transform="rotate(-18,845.2,689.6)" stroke-width="1.8"/>
<ellipse cx="845.5" cy="690.1" rx="11.3" ry="13.600000000000001" transform="rotate(-18,845.2,689.6)" stroke-width="1.5"/>
<ellipse cx="845.8000000000001" cy="690.6" rx="9.100000000000001" ry="10.8" transform="rotate(-18,845.2,689.6)" stroke-width="1.3"/>
<path d="M832.1,676.3 L842.5,684.1 L838.5,694.9 L829.9,683.7 Z" fill="#000" stroke-width="1.6"/>
<ellipse cx="831" cy="680" rx="2.9" ry="4.9" transform="rotate(-18,831,680)" fill="#000" stroke-width="1.5"/>
<ellipse cx="840.5" cy="689.5" rx="4.6" ry="7.2" transform="rotate(-18,840.5,689.5)" fill="#000" stroke-width="1.8"/>
<ellipse cx="878.3" cy="726.9" rx="15" ry="16" transform="rotate(-18,878.3,726.9)" stroke-width="1.8"/>
<ellipse cx="878.5999999999999" cy="727.4" rx="12.4" ry="13" transform="rotate(-18,878.3,726.9)" stroke-width="1.5"/>
<ellipse cx="878.9" cy="727.9" rx="10.2" ry="10.2" transform="rotate(-18,878.3,726.9)" stroke-width="1.3"/>
<path d="M867.8,714.7 L878.3,721.9 L874.7,733.1 L865.8,722.3 Z" fill="#000" stroke-width="1.6"/>
<ellipse cx="866.8" cy="718.5" rx="2.9" ry="4.9" transform="rotate(-18,866.8,718.5)" fill="#000" stroke-width="1.5"/>
<ellipse cx="876.5" cy="727.5" rx="4.6" ry="7.2" transform="rotate(-18,876.5,727.5)" fill="#000" stroke-width="1.8"/>
<text x="598.2" y="475.4" font-size="19.92" style="font-family:'Liberation Sans',sans-serif;font-style:italic;" textLength="22.3" lengthAdjust="spacingAndGlyphs" fill="#fff" stroke="#fff" stroke-width="0.4">10</text>
<text x="776.3" y="503.3" font-size="20.34" style="font-family:'Liberation Sans',sans-serif;" textLength="23.0" lengthAdjust="spacingAndGlyphs" fill="#fff" stroke="#fff" stroke-width="0.4">34</text>
<text x="1350.3" y="488.0" font-size="20.34" style="font-family:'Liberation Sans',sans-serif;font-style:italic;" textLength="21.6" lengthAdjust="spacingAndGlyphs" fill="#fff" stroke="#fff" stroke-width="0.4">12</text>
<text x="639.8" y="625.9" font-size="19.92" style="font-family:'Liberation Sans',sans-serif;" textLength="23.7" lengthAdjust="spacingAndGlyphs" fill="#fff" stroke="#fff" stroke-width="0.4">32</text>
<text x="880.8" y="690.4" font-size="18.93" style="font-family:'Liberation Sans',sans-serif;" textLength="25.0" lengthAdjust="spacingAndGlyphs" fill="#fff" stroke="#fff" stroke-width="0.4">30</text>
<text x="1046.3" y="726.2" font-size="22.32" style="font-family:'Liberation Sans',sans-serif;" textLength="22.9" lengthAdjust="spacingAndGlyphs" fill="#fff" stroke="#fff" stroke-width="0.4">62</text>
<text x="1033.4" y="752.6" font-size="23.16" style="font-family:'Liberation Sans',sans-serif;" textLength="24.1" lengthAdjust="spacingAndGlyphs" fill="#fff" stroke="#fff" stroke-width="0.4">64</text>
<text x="1012.9" y="779.6" font-size="23.31" style="font-family:'Liberation Sans',sans-serif;" textLength="22.9" lengthAdjust="spacingAndGlyphs" fill="#fff" stroke="#fff" stroke-width="0.4">66</text>
<text x="1176.5" y="838.2" font-size="18.22" style="font-family:'Liberation Sans',sans-serif;" textLength="22.9" lengthAdjust="spacingAndGlyphs" fill="#fff" stroke="#fff" stroke-width="0.4">68</text>
<text x="1346.5" y="808.0" font-size="22.60" style="font-family:'Liberation Sans',sans-serif;" textLength="24.0" lengthAdjust="spacingAndGlyphs" fill="#fff" stroke="#fff" stroke-width="0.4">28</text>
<text x="593.1" y="719.6" font-size="21.19" style="font-family:'Liberation Sans',sans-serif;font-style:italic;" textLength="20.8" lengthAdjust="spacingAndGlyphs" fill="#fff" stroke="#fff" stroke-width="0.4">15</text>
<text x="537.3" y="816.6" font-size="20.06" style="font-family:'Liberation Sans',sans-serif;font-style:italic;" textLength="20.8" lengthAdjust="spacingAndGlyphs" fill="#fff" stroke="#fff" stroke-width="0.4">21</text>
<text x="702.1" y="869.1" font-size="18.36" style="font-family:'Liberation Sans',sans-serif;" textLength="23.5" lengthAdjust="spacingAndGlyphs" fill="#fff" stroke="#fff" stroke-width="0.4">20</text>
<text x="837.9" y="954.0" font-size="20.62" style="font-family:'Liberation Sans',sans-serif;font-style:italic;" textLength="21.3" lengthAdjust="spacingAndGlyphs" fill="#fff" stroke="#fff" stroke-width="0.4">17</text>
<text x="552.7" y="1093.5" font-size="21.47" style="font-family:'Liberation Sans',sans-serif;font-style:italic;" textLength="21.6" lengthAdjust="spacingAndGlyphs" fill="#fff" stroke="#fff" stroke-width="0.4">14</text>
<text x="823.4" y="1079.6" font-size="22.03" style="font-family:'Liberation Sans',sans-serif;font-style:italic;" textLength="20.9" lengthAdjust="spacingAndGlyphs" fill="#fff" stroke="#fff" stroke-width="0.4">16</text>
<text x="963.1" y="968.7" font-size="20.34" style="font-family:'Liberation Sans',sans-serif;" textLength="24.3" lengthAdjust="spacingAndGlyphs" fill="#fff" stroke="#fff" stroke-width="0.4">20</text>
<text x="1009.1" y="954.9" font-size="21.33" style="font-family:'Liberation Sans',sans-serif;" textLength="23.0" lengthAdjust="spacingAndGlyphs" fill="#fff" stroke="#fff" stroke-width="0.4">26</text>
<text x="917.1" y="1084.3" font-size="21.33" style="font-family:'Liberation Sans',sans-serif;font-style:italic;" textLength="20.4" lengthAdjust="spacingAndGlyphs" fill="#fff" stroke="#fff" stroke-width="0.4">19</text>
<text x="961.8" y="1084.3" font-size="21.33" style="font-family:'Liberation Sans',sans-serif;" textLength="23.0" lengthAdjust="spacingAndGlyphs" fill="#fff" stroke="#fff" stroke-width="0.4">24</text>
<text x="1015.7" y="1084.3" font-size="21.33" style="font-family:'Liberation Sans',sans-serif;" textLength="23.0" lengthAdjust="spacingAndGlyphs" fill="#fff" stroke="#fff" stroke-width="0.4">22</text>
<text x="1068.2" y="1000.9" font-size="20.06" style="font-family:'Liberation Sans',sans-serif;" textLength="25.6" lengthAdjust="spacingAndGlyphs" fill="#fff" stroke="#fff" stroke-width="0.4">RA</text>
<text x="1068.2" y="1025.2" font-size="20.93" style="font-family:'Liberation Sans',sans-serif;" textLength="23.0" lengthAdjust="spacingAndGlyphs" fill="#fff" stroke="#fff" stroke-width="0.4">LA</text>
<text x="1068.9" y="1048.9" font-size="21.95" style="font-family:'Liberation Sans',sans-serif;" textLength="19.0" lengthAdjust="spacingAndGlyphs" fill="#fff" stroke="#fff" stroke-width="0.4">LL</text>
<text x="1001.3" y="1158.6" font-size="46.51" style="font-family:'Liberation Sans',sans-serif;font-weight:bold;font-style:italic;" textLength="75.9" lengthAdjust="spacingAndGlyphs" fill="#fff" stroke="#fff" stroke-width="0.4">FIG.</text>
</g>
<g id="fig2">
<rect x="565.4" y="1346.0" width="104.1" height="51.1" stroke="#fff" fill="none" stroke-linecap="round" stroke-linejoin="round" stroke-width="2.6"/>
<text x="580.4" y="1365.8" font-size="18.75" style="font-family:'Liberation Sans',sans-serif;" textLength="72.9" lengthAdjust="spacingAndGlyphs" fill="#fff" stroke="#fff" stroke-width="0.6">GENERATOR</text>
<text x="597.4" y="1388.2" font-size="18.75" style="font-family:'Liberation Sans',sans-serif;" textLength="38.4" lengthAdjust="spacingAndGlyphs" fill="#fff" stroke="#fff" stroke-width="0.6">CHAIN</text>
<rect x="712.6" y="1344.9" width="99.1" height="50.8" stroke="#fff" fill="none" stroke-linecap="round" stroke-linejoin="round" stroke-width="2.6"/>
<text x="740.3" y="1365.8" font-size="18.75" style="font-family:'Liberation Sans',sans-serif;" textLength="44.7" lengthAdjust="spacingAndGlyphs" fill="#fff" stroke="#fff" stroke-width="0.6">POWER</text>
<text x="725.4" y="1388.6" font-size="18.75" style="font-family:'Liberation Sans',sans-serif;" textLength="72.9" lengthAdjust="spacingAndGlyphs" fill="#fff" stroke="#fff" stroke-width="0.6">CONVERTER</text>
<rect x="924.6" y="1276.9" width="102.4" height="77.8" stroke="#fff" fill="none" stroke-linecap="round" stroke-linejoin="round" stroke-width="2.6"/>
<text x="946.2" y="1299.3" font-size="18.75" style="font-family:'Liberation Sans',sans-serif;" textLength="60.5" lengthAdjust="spacingAndGlyphs" fill="#fff" stroke="#fff" stroke-width="0.6">ISOLATOR</text>
<text x="955.8" y="1321.7" font-size="18.75" style="font-family:'Liberation Sans',sans-serif;" textLength="41.3" lengthAdjust="spacingAndGlyphs" fill="#fff" stroke="#fff" stroke-width="0.6">BOOST</text>
<text x="940.2" y="1344.5" font-size="18.75" style="font-family:'Liberation Sans',sans-serif;" textLength="72.1" lengthAdjust="spacingAndGlyphs" fill="#fff" stroke="#fff" stroke-width="0.6">CONVERTER</text>
<rect x="1233.8" y="1312.2" width="101.7" height="115.2" stroke="#fff" fill="none" stroke-linecap="round" stroke-linejoin="round" stroke-width="2.6"/>
<text x="1249.8" y="1332.5" font-size="18.75" style="font-family:'Liberation Sans',sans-serif;" textLength="70.3" lengthAdjust="spacingAndGlyphs" fill="#fff" stroke="#fff" stroke-width="0.6">DISCHARGE</text>
<text x="1253.0" y="1355.3" font-size="18.75" style="font-family:'Liberation Sans',sans-serif;" textLength="62.9" lengthAdjust="spacingAndGlyphs" fill="#fff" stroke="#fff" stroke-width="0.6">CIRCUITRY</text>
<rect x="850.3" y="1463.3" width="102.4" height="77.4" stroke="#fff" fill="none" stroke-linecap="round" stroke-linejoin="round" stroke-width="2.6"/>
<text x="870.6" y="1485.3" font-size="18.75" style="font-family:'Liberation Sans',sans-serif;" textLength="60.7" lengthAdjust="spacingAndGlyphs" fill="#fff" stroke="#fff" stroke-width="0.6">ISOLATOR</text>
<text x="884.4" y="1507.7" font-size="18.75" style="font-family:'Liberation Sans',sans-serif;" textLength="33.1" lengthAdjust="spacingAndGlyphs" fill="#fff" stroke="#fff" stroke-width="0.6">BUCK</text>
<text x="865.2" y="1530.5" font-size="18.75" style="font-family:'Liberation Sans',sans-serif;" textLength="72.5" lengthAdjust="spacingAndGlyphs" fill="#fff" stroke="#fff" stroke-width="0.6">CONVERTER</text>
<rect x="1084.5" y="1547.2" width="100.9" height="74.0" stroke="#fff" fill="none" stroke-linecap="round" stroke-linejoin="round" stroke-width="2.6"/>
<text x="1115.0" y="1578.1" font-size="18.75" style="font-family:'Liberation Sans',sans-serif;" textLength="38.8" lengthAdjust="spacingAndGlyphs" fill="#fff" stroke="#fff" stroke-width="0.6">MICRO</text>
<text x="1093.7" y="1600.5" font-size="18.75" style="font-family:'Liberation Sans',sans-serif;" textLength="81.0" lengthAdjust="spacingAndGlyphs" fill="#fff" stroke="#fff" stroke-width="0.6">CONTROLLER</text>
<rect x="849.9" y="1601.3" width="102.7" height="50.6" stroke="#fff" fill="none" stroke-linecap="round" stroke-linejoin="round" stroke-width="2.6"/>
<text x="888.7" y="1621.6" font-size="18.75" style="font-family:'Liberation Sans',sans-serif;" textLength="24.7" lengthAdjust="spacingAndGlyphs" fill="#fff" stroke="#fff" stroke-width="0.6">EKG</text>
<text x="868.6" y="1644.0" font-size="18.75" style="font-family:'Liberation Sans',sans-serif;" textLength="66.1" lengthAdjust="spacingAndGlyphs" fill="#fff" stroke="#fff" stroke-width="0.6">AMPLIFIER</text>
<rect x="1203.3" y="1644.8" width="101.0" height="50.4" stroke="#fff" fill="none" stroke-linecap="round" stroke-linejoin="round" stroke-width="2.6"/>
<text x="1224.8" y="1664.8" font-size="18.75" style="font-family:'Liberation Sans',sans-serif;" textLength="57.6" lengthAdjust="spacingAndGlyphs" fill="#fff" stroke="#fff" stroke-width="0.6">CONTROL</text>
<text x="1234.0" y="1687.2" font-size="18.75" style="font-family:'Liberation Sans',sans-serif;" textLength="39.5" lengthAdjust="spacingAndGlyphs" fill="#fff" stroke="#fff" stroke-width="0.6">PANEL</text>
<rect x="625.8" y="1588.0" width="76.1" height="74.2" stroke="#fff" fill="none" stroke-linecap="round" stroke-linejoin="round" stroke-width="2.6"/>
<rect x="530.3" y="1349" width="16" height="5.2" rx="2.6" stroke="#fff" fill="none" stroke-linecap="round" stroke-linejoin="round" stroke-width="1.8"/>
<path d="M546,1350.2 C551,1350.2 552.5,1353 553,1360 C553.5,1368 557,1369.3 565.4,1369.3" stroke="#fff" fill="none" stroke-linecap="round" stroke-linejoin="round" stroke-width="1.5"/>
<path d="M546,1353.6 C549.5,1353.6 550.2,1356 550.6,1361 C551.2,1370 555,1372.2 565.4,1372.2" stroke="#fff" fill="none" stroke-linecap="round" stroke-linejoin="round" stroke-width="1.5"/>
<path d="M669.5,1370.5 H704" stroke="#fff" fill="none" stroke-linecap="round" stroke-linejoin="round" stroke-width="2.0"/>
<path d="M712.6,1370.5 L702.1,1375.1 L704.6,1370.5 L702.1,1365.9 Z" fill="#fff" stroke="#fff" stroke-width="1" stroke-linejoin="round"/>
<path d="M811.7,1369.4 H856.8" stroke="#fff" fill="none" stroke-linecap="round" stroke-linejoin="round" stroke-width="2.0"/>
<path d="M840,1369.4 L829.5,1374.0 L832.0,1369.4 L829.5,1364.8 Z" fill="#fff" stroke="#fff" stroke-width="1" stroke-linejoin="round"/>
<circle cx="856.8" cy="1369.4" r="2.6" fill="#fff"/>
<path d="M856.8,1369.4 V1311.6 H924.6" stroke="#fff" fill="none" stroke-linecap="round" stroke-linejoin="round" stroke-width="2.0"/>
<path d="M856.8,1369.4 H899.5 V1463.3" stroke="#fff" fill="none" stroke-linecap="round" stroke-linejoin="round" stroke-width="2.0"/>
<path d="M1027,1314.5 H1090.7 V1358.6" stroke="#fff" fill="none" stroke-linecap="round" stroke-linejoin="round" stroke-width="2.0"/>
<circle cx="1090.7" cy="1339" r="2.6" fill="#fff"/>
<path d="M1090.7,1339 H1233.8" stroke="#fff" fill="none" stroke-linecap="round" stroke-linejoin="round" stroke-width="2.0"/>
<path d="M1071.3,1358.6 H1110.8" stroke="#fff" fill="none" stroke-linecap="round" stroke-linejoin="round" stroke-width="2.8"/>
<path d="M1071.3,1371.8 H1110.8" stroke="#fff" fill="none" stroke-linecap="round" stroke-linejoin="round" stroke-width="2.8"/>
<path d="M1090.7,1371.8 V1400" stroke="#fff" fill="none" stroke-linecap="round" stroke-linejoin="round" stroke-width="2.0"/>
<path d="M1074.5,1400 H1107" stroke="#fff" fill="none" stroke-linecap="round" stroke-linejoin="round" stroke-width="2.8"/>
<path d="M1079.9,1407 H1101.8" stroke="#fff" fill="none" stroke-linecap="round" stroke-linejoin="round" stroke-width="2.8"/>
<path d="M1085.2,1413.8 H1095.9" stroke="#fff" fill="none" stroke-linecap="round" stroke-linejoin="round" stroke-width="2.8"/>
<text x="1104.4" y="1392.0" font-size="19.07" style="font-family:'Liberation Sans',sans-serif;" textLength="34.6" lengthAdjust="spacingAndGlyphs" fill="#fff" stroke="#fff" stroke-width="0.3">160</text>
<text x="1139.5" y="1392.0" font-size="20.72" style="font-family:'Liberation Sans',sans-serif;" textLength="16.1" lengthAdjust="spacingAndGlyphs" fill="#fff" stroke="#fff" stroke-width="0.3">μf</text>
<path d="M1335.5,1333.6 H1375.6" stroke="#fff" fill="none" stroke-linecap="round" stroke-linejoin="round" stroke-width="2.0"/>
<circle cx="1389.4" cy="1333.6" r="13.8" stroke="#fff" fill="none" stroke-linecap="round" stroke-linejoin="round" stroke-width="2.6"/>
<path d="M1335.5,1400.7 H1375.6" stroke="#fff" fill="none" stroke-linecap="round" stroke-linejoin="round" stroke-width="2.0"/>
<circle cx="1389.4" cy="1400.3" r="13.8" stroke="#fff" fill="none" stroke-linecap="round" stroke-linejoin="round" stroke-width="2.6"/>
<path d="M1253.2,1580.2 V1436" stroke="#fff" fill="none" stroke-linecap="round" stroke-linejoin="round" stroke-width="2.0"/>
<path d="M1253.2,1428.4 L1257.8,1438.9 L1253.2,1436.4 L1248.6,1438.9 Z" fill="#fff" stroke="#fff" stroke-width="1" stroke-linejoin="round"/>
<path d="M1185.4,1580.2 H1253.2" stroke="#fff" fill="none" stroke-linecap="round" stroke-linejoin="round" stroke-width="2.0"/>
<path d="M850.3,1501.3 H765.5 V1601" stroke="#fff" fill="none" stroke-linecap="round" stroke-linejoin="round" stroke-width="2.0"/>
<path d="M952.7,1498.9 H1136.4 V1547.2" stroke="#fff" fill="none" stroke-linecap="round" stroke-linejoin="round" stroke-width="2.0"/>
<path d="M899.8,1540.7 V1601.3" stroke="#fff" fill="none" stroke-linecap="round" stroke-linejoin="round" stroke-width="2.0"/>
<path d="M828.3,1624.6 V1572.3 H891.9 A8,8 0 0 1 907.9,1572.3 H1076" stroke="#fff" fill="none" stroke-linecap="round" stroke-linejoin="round" stroke-width="2.0"/>
<path d="M1084.3,1572.3 L1073.8,1576.9 L1076.3,1572.3 L1073.8,1567.7 Z" fill="#fff" stroke="#fff" stroke-width="1" stroke-linejoin="round"/>
<circle cx="828.3" cy="1624.6" r="2.6" fill="#fff"/>
<path d="M731.7,1624.2 L781.2,1594.4 L781.2,1656.2 Z" stroke="#fff" fill="none" stroke-linecap="round" stroke-linejoin="round" stroke-width="2.6"/>
<path d="M781.2,1624.4 H849.9" stroke="#fff" fill="none" stroke-linecap="round" stroke-linejoin="round" stroke-width="2.0"/>
<path d="M701.9,1624.2 H731.7" stroke="#fff" fill="none" stroke-linecap="round" stroke-linejoin="round" stroke-width="2.0"/>
<path d="M597.4,1624.4 H625.8" stroke="#fff" fill="none" stroke-linecap="round" stroke-linejoin="round" stroke-width="2.0"/>
<path d="M900,1651.9 V1730.6 H1342.7" stroke="#fff" fill="none" stroke-linecap="round" stroke-linejoin="round" stroke-width="2.0"/>
<circle cx="1342.7" cy="1730.8" r="2.6" fill="#fff"/>
<path d="M1133.6,1621.2 V1661.4" stroke="#fff" fill="none" stroke-linecap="round" stroke-linejoin="round" stroke-width="2.0"/>
<circle cx="1133.4" cy="1675.3" r="13.9" stroke="#fff" fill="none" stroke-linecap="round" stroke-linejoin="round" stroke-width="2.6"/>
<path d="M1185.4,1608.4 H1253.6 V1644.8" stroke="#fff" fill="none" stroke-linecap="round" stroke-linejoin="round" stroke-width="2.0"/>
<path d="M1205.2,1608.4 L1217.2,1603.8 L1214.7,1608.4 L1217.2,1613.0 Z" fill="#fff" stroke="#fff" stroke-width="1" stroke-linejoin="round"/>
<path d="M1250.8,1608.4 L1237.8,1613.0 L1240.3,1608.4 L1237.8,1603.8 Z" fill="#fff" stroke="#fff" stroke-width="1" stroke-linejoin="round"/>
<path d="M559.4,1627 C558,1612.5 597.5,1612.5 596.2,1627 Z" stroke="#fff" fill="none" stroke-linecap="round" stroke-linejoin="round" stroke-width="2.2"/>
<rect x="557.6" y="1628.4" width="40.5" height="5" rx="2.5" stroke="#fff" fill="none" stroke-linecap="round" stroke-linejoin="round" stroke-width="2.2"/>
<rect x="557.6" y="1664.4" width="40.5" height="5" rx="2.5" stroke="#fff" fill="none" stroke-linecap="round" stroke-linejoin="round" stroke-width="2.2"/>
<path d="M559.4,1669.8 C558,1687 597.5,1687 597,1669.8 Z" stroke="#fff" fill="none" stroke-linecap="round" stroke-linejoin="round" stroke-width="2.2"/>
<path d="M558.4,1622.7 C538,1624 530.4,1637 530.4,1648.5 C530.4,1662 540,1674 558.4,1675.4" stroke="#fff" fill="none" stroke-linecap="round" stroke-linejoin="round" stroke-width="2.2"/>
<text x="542.0" y="1321.0" font-size="19.77" style="font-family:'Liberation Sans',sans-serif;font-style:italic;" textLength="18.0" lengthAdjust="spacingAndGlyphs" fill="#fff" stroke="#fff" stroke-width="0.3">12</text>
<path d="M548,1323.6 L540.5,1349.8" stroke="#fff" fill="none" stroke-linecap="round" stroke-linejoin="round" stroke-width="1.6"/>
<text x="634.7" y="1317.2" font-size="18.64" style="font-family:'Liberation Sans',sans-serif;font-style:italic;" textLength="21.3" lengthAdjust="spacingAndGlyphs" fill="#fff" stroke="#fff" stroke-width="0.3">80</text>
<path d="M640.5,1323.2 L631.5,1350.9" stroke="#fff" fill="none" stroke-linecap="round" stroke-linejoin="round" stroke-width="1.6"/>
<text x="684.8" y="1333.8" font-size="18.08" style="font-family:'Liberation Sans',sans-serif;font-style:italic;" textLength="20.9" lengthAdjust="spacingAndGlyphs" fill="#fff" stroke="#fff" stroke-width="0.3">82</text>
<path d="M692.3,1339.1 L686.5,1370.5" stroke="#fff" fill="none" stroke-linecap="round" stroke-linejoin="round" stroke-width="1.6"/>
<text x="783.0" y="1320.6" font-size="19.21" style="font-family:'Liberation Sans',sans-serif;font-style:italic;" textLength="20.8" lengthAdjust="spacingAndGlyphs" fill="#fff" stroke="#fff" stroke-width="0.3">84</text>
<path d="M794,1326.4 L789.7,1349.8" stroke="#fff" fill="none" stroke-linecap="round" stroke-linejoin="round" stroke-width="1.6"/>
<text x="891.2" y="1261.6" font-size="19.21" style="font-family:'Liberation Sans',sans-serif;font-style:italic;" textLength="21.3" lengthAdjust="spacingAndGlyphs" fill="#fff" stroke="#fff" stroke-width="0.3">86</text>
<path d="M913.6,1264.5 L927.4,1279.5" stroke="#fff" fill="none" stroke-linecap="round" stroke-linejoin="round" stroke-width="1.6"/>
<text x="1071.3" y="1288.6" font-size="18.08" style="font-family:'Liberation Sans',sans-serif;font-style:italic;" textLength="21.4" lengthAdjust="spacingAndGlyphs" fill="#fff" stroke="#fff" stroke-width="0.3">88</text>
<path d="M1078.4,1292.9 L1068.6,1314.2" stroke="#fff" fill="none" stroke-linecap="round" stroke-linejoin="round" stroke-width="1.6"/>
<text x="1054.3" y="1342.0" font-size="18.36" style="font-family:'Liberation Sans',sans-serif;font-style:italic;" textLength="21.3" lengthAdjust="spacingAndGlyphs" fill="#fff" stroke="#fff" stroke-width="0.3">90</text>
<path d="M1070.3,1345.6 L1078.4,1357.5" stroke="#fff" fill="none" stroke-linecap="round" stroke-linejoin="round" stroke-width="1.6"/>
<text x="1051.8" y="1439.4" font-size="19.49" style="font-family:'Liberation Sans',sans-serif;font-style:italic;" textLength="21.3" lengthAdjust="spacingAndGlyphs" fill="#fff" stroke="#fff" stroke-width="0.3">92</text>
<path d="M1084.1,1409.1 L1073.5,1421.9" stroke="#fff" fill="none" stroke-linecap="round" stroke-linejoin="round" stroke-width="1.6"/>
<text x="1238.0" y="1286.7" font-size="19.63" style="font-family:'Liberation Sans',sans-serif;font-style:italic;" textLength="20.3" lengthAdjust="spacingAndGlyphs" fill="#fff" stroke="#fff" stroke-width="0.3">94</text>
<path d="M1247.6,1290.9 L1254.5,1316.5" stroke="#fff" fill="none" stroke-linecap="round" stroke-linejoin="round" stroke-width="1.6"/>
<text x="1350.0" y="1311.2" font-size="18.08" style="font-family:'Liberation Sans',sans-serif;font-style:italic;" textLength="18.0" lengthAdjust="spacingAndGlyphs" fill="#fff" stroke="#fff" stroke-width="0.3">15</text>
<path d="M1360.6,1316.5 L1357,1333.6" stroke="#fff" fill="none" stroke-linecap="round" stroke-linejoin="round" stroke-width="1.6"/>
<text x="1384.0" y="1295.2" font-size="19.63" style="font-family:'Liberation Sans',sans-serif;font-style:italic;" textLength="17.0" lengthAdjust="spacingAndGlyphs" fill="#fff" stroke="#fff" stroke-width="0.3">14</text>
<path d="M1392,1299.4 L1388.3,1320.8" stroke="#fff" fill="none" stroke-linecap="round" stroke-linejoin="round" stroke-width="1.6"/>
<text x="1347.8" y="1442.3" font-size="18.08" style="font-family:'Liberation Sans',sans-serif;font-style:italic;" textLength="17.7" lengthAdjust="spacingAndGlyphs" fill="#fff" stroke="#fff" stroke-width="0.3">17</text>
<path d="M1358.5,1401.8 L1355.3,1424.2" stroke="#fff" fill="none" stroke-linecap="round" stroke-linejoin="round" stroke-width="1.6"/>
<text x="1398.0" y="1442.3" font-size="18.08" style="font-family:'Liberation Sans',sans-serif;font-style:italic;" textLength="17.0" lengthAdjust="spacingAndGlyphs" fill="#fff" stroke="#fff" stroke-width="0.3">16</text>
<path d="M1395.8,1412.4 L1402.6,1424.6" stroke="#fff" fill="none" stroke-linecap="round" stroke-linejoin="round" stroke-width="1.6"/>
<text x="953.7" y="1433.0" font-size="17.94" style="font-family:'Liberation Sans',sans-serif;font-style:italic;" textLength="21.3" lengthAdjust="spacingAndGlyphs" fill="#fff" stroke="#fff" stroke-width="0.3">98</text>
<path d="M960.5,1438.4 L946.3,1464" stroke="#fff" fill="none" stroke-linecap="round" stroke-linejoin="round" stroke-width="1.6"/>
<text x="711.7" y="1530.0" font-size="18.64" style="font-family:'Liberation Sans',sans-serif;font-style:italic;" textLength="30.9" lengthAdjust="spacingAndGlyphs" fill="#fff" stroke="#fff" stroke-width="0.3">102</text>
<path d="M746.9,1524.3 L765,1530.5" stroke="#fff" fill="none" stroke-linecap="round" stroke-linejoin="round" stroke-width="1.6"/>
<text x="919.6" y="1595.0" font-size="19.49" style="font-family:'Liberation Sans',sans-serif;font-style:italic;" textLength="32.0" lengthAdjust="spacingAndGlyphs" fill="#fff" stroke="#fff" stroke-width="0.3">100</text>
<path d="M900.4,1580.8 L917.5,1583" stroke="#fff" fill="none" stroke-linecap="round" stroke-linejoin="round" stroke-width="1.6"/>
<text x="1068.1" y="1532.2" font-size="19.49" style="font-family:'Liberation Sans',sans-serif;font-style:italic;" textLength="20.3" lengthAdjust="spacingAndGlyphs" fill="#fff" stroke="#fff" stroke-width="0.3">96</text>
<path d="M1086.7,1535.9 L1101.2,1552.5" stroke="#fff" fill="none" stroke-linecap="round" stroke-linejoin="round" stroke-width="1.6"/>
<text x="1166.2" y="1516.7" font-size="18.64" style="font-family:'Liberation Sans',sans-serif;font-style:italic;" textLength="29.8" lengthAdjust="spacingAndGlyphs" fill="#fff" stroke="#fff" stroke-width="0.3">104</text>
<path d="M1159.8,1513 L1136.4,1523.7" stroke="#fff" fill="none" stroke-linecap="round" stroke-linejoin="round" stroke-width="1.6"/>
<text x="633.7" y="1557.0" font-size="17.94" style="font-family:'Liberation Sans',sans-serif;font-style:italic;" textLength="30.3" lengthAdjust="spacingAndGlyphs" fill="#fff" stroke="#fff" stroke-width="0.3">106</text>
<path d="M649,1563.5 L651.8,1590.7" stroke="#fff" fill="none" stroke-linecap="round" stroke-linejoin="round" stroke-width="1.6"/>
<text x="560.8" y="1581.2" font-size="19.07" style="font-family:'Liberation Sans',sans-serif;font-style:italic;" textLength="21.2" lengthAdjust="spacingAndGlyphs" fill="#fff" stroke="#fff" stroke-width="0.3">28</text>
<path d="M573.3,1585 L576,1614.4" stroke="#fff" fill="none" stroke-linecap="round" stroke-linejoin="round" stroke-width="1.6"/>
<text x="805.3" y="1666.9" font-size="19.63" style="font-family:'Liberation Sans',sans-serif;font-style:italic;" textLength="29.9" lengthAdjust="spacingAndGlyphs" fill="#fff" stroke="#fff" stroke-width="0.3">110</text>
<path d="M806,1625.3 L817.7,1649.2" stroke="#fff" fill="none" stroke-linecap="round" stroke-linejoin="round" stroke-width="1.6"/>
<text x="733.5" y="1682.4" font-size="18.93" style="font-family:'Liberation Sans',sans-serif;font-style:italic;" textLength="30.7" lengthAdjust="spacingAndGlyphs" fill="#fff" stroke="#fff" stroke-width="0.3">112</text>
<path d="M756.7,1635.5 L748.8,1663.2" stroke="#fff" fill="none" stroke-linecap="round" stroke-linejoin="round" stroke-width="1.6"/>
<text x="956.0" y="1689.8" font-size="19.49" style="font-family:'Liberation Sans',sans-serif;font-style:italic;" textLength="30.3" lengthAdjust="spacingAndGlyphs" fill="#fff" stroke="#fff" stroke-width="0.3">108</text>
<path d="M943.2,1646.5 L959.7,1670.6" stroke="#fff" fill="none" stroke-linecap="round" stroke-linejoin="round" stroke-width="1.6"/>
<text x="1040.7" y="1768.0" font-size="19.21" style="font-family:'Liberation Sans',sans-serif;font-style:italic;" textLength="18.5" lengthAdjust="spacingAndGlyphs" fill="#fff" stroke="#fff" stroke-width="0.3">18</text>
<path d="M1061,1731.8 L1054.5,1750.6" stroke="#fff" fill="none" stroke-linecap="round" stroke-linejoin="round" stroke-width="1.6"/>
<text x="1083.0" y="1661.2" font-size="18.08" style="font-family:'Liberation Sans',sans-serif;font-style:italic;" textLength="20.3" lengthAdjust="spacingAndGlyphs" fill="#fff" stroke="#fff" stroke-width="0.3">68</text>
<path d="M1106.5,1662.3 L1122.5,1673" stroke="#fff" fill="none" stroke-linecap="round" stroke-linejoin="round" stroke-width="1.6"/>
<text x="1309.1" y="1618.4" font-size="18.08" style="font-family:'Liberation Sans',sans-serif;font-style:italic;" textLength="22.4" lengthAdjust="spacingAndGlyphs" fill="#fff" stroke="#fff" stroke-width="0.3">30</text>
<path d="M1309.7,1626 L1298.4,1644.2" stroke="#fff" fill="none" stroke-linecap="round" stroke-linejoin="round" stroke-width="1.6"/>
<text x="1354.7" y="1737.2" font-size="18.17" style="font-family:'Liberation Sans',sans-serif;" textLength="65.6" lengthAdjust="spacingAndGlyphs" fill="#fff" stroke="#fff" stroke-width="0.6">EKG CABLE</text>
<text x="932.0" y="1824.9" font-size="39.24" style="font-family:'Liberation Sans',sans-serif;font-weight:bold;font-style:italic;" textLength="103.9" lengthAdjust="spacingAndGlyphs" fill="#fff" stroke="#fff" stroke-width="0.2">FIG. 2</text>
</g>
</svg>
</body></html>
